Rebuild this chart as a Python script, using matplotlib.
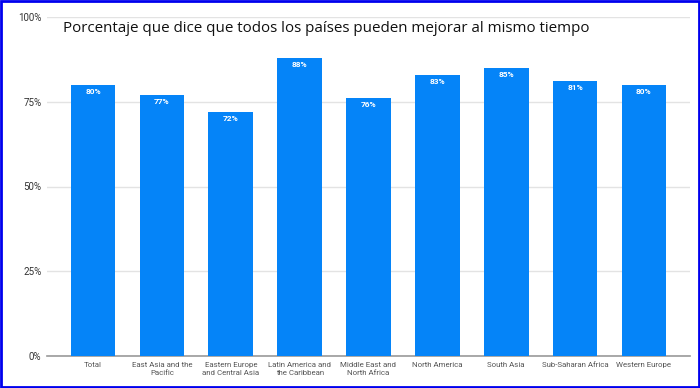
import matplotlib.pyplot as plt
from matplotlib.patches import Rectangle

categories = ["Total", "East Asia and the\nPacific", "Eastern Europe\nand Central Asia",
              "Latin America and\nthe Caribbean", "Middle East and\nNorth Africa",
              "North America", "South Asia", "Sub-Saharan Africa", "Western Europe"]
values = [80, 77, 72, 88, 76, 83, 85, 81, 80]
yticks = [0, 25, 50, 75, 100]

fig = plt.figure(figsize=(7, 3.88), dpi=100)
ax = fig.add_axes([47/700, 32/388, 643/700, 339/388])

x = range(len(categories))
bars = ax.bar(x, values, width=0.65, color='#0584f8', zorder=3)
for xi, v in zip(x, values):
    ax.text(xi, v - 0.9, f"{v}%", ha='center', va='top', color='white',
            fontsize=6, fontweight='bold', family='Roboto', zorder=4)

ax.set_ylim(0, 100)
ax.set_xlim(-0.67, len(categories) - 0.33)
ax.set_yticks(yticks)
ax.set_yticklabels([f"{t}%" for t in yticks], fontsize=7, color='#333333', family='Roboto')
ax.set_xticks(list(x))
ax.set_xticklabels(categories, fontsize=5.7, color='#555555', linespacing=1.4, family='Roboto')
ax.tick_params(axis='both', length=0, pad=4)
ax.grid(axis='y', color='#e3e3e3', linewidth=1, zorder=0)
for s in ['top', 'right', 'left']:
    ax.spines[s].set_visible(False)
ax.spines['bottom'].set_color('#999999')
ax.spines['bottom'].set_linewidth(1.2)

fig.text(63/700, 1 - 28/388, "Porcentaje que dice que todos los países pueden mejorar al mismo tiempo",
         fontsize=10.9, family='Open Sans', va='center', ha='left', color='#111111')

fig.patches.append(Rectangle((0.002, 0.003), 0.996, 0.994, transform=fig.transFigure,
                             fill=False, edgecolor='#0000ee', linewidth=2))

fig.savefig('out.png', dpi=100)
